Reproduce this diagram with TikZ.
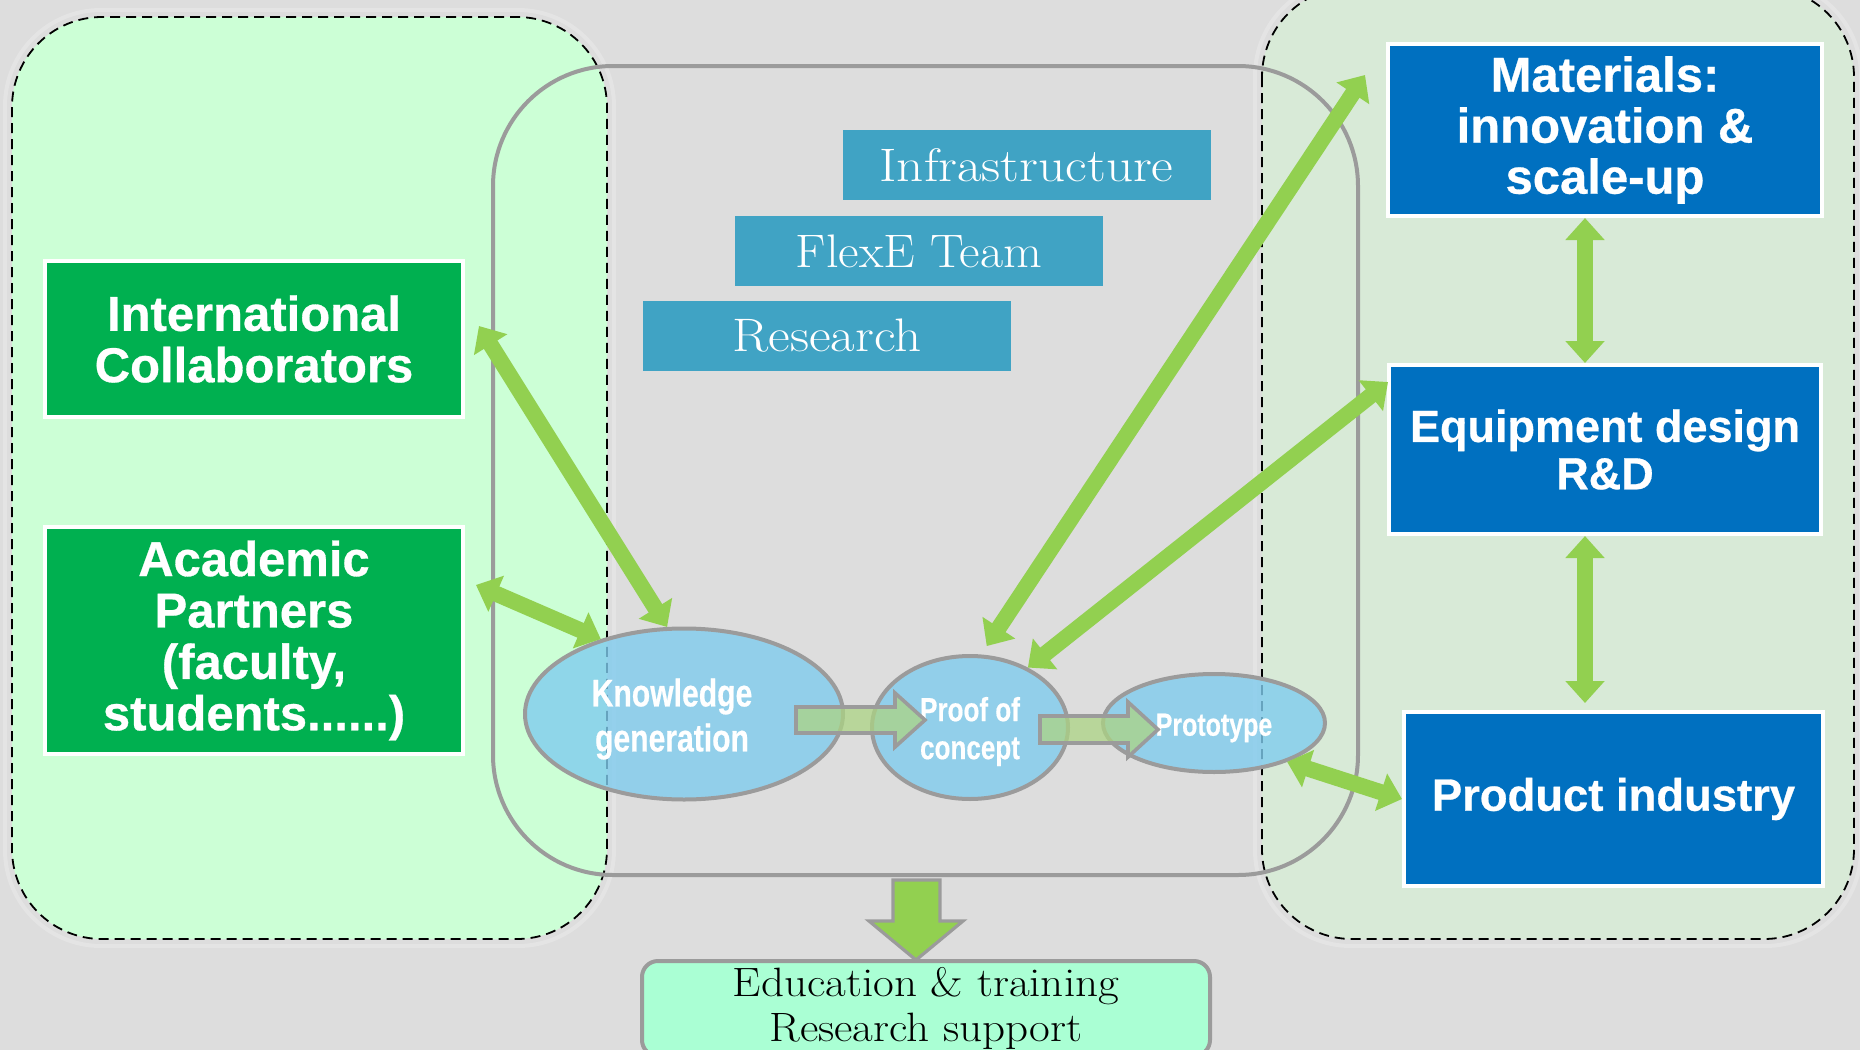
\documentclass[tikz,border=0pt]{standalone}
\usepackage{fontspec}
\usepackage{graphicx}
\usetikzlibrary{shapes.geometric,arrows.meta,calc}
\newfontfamily\sansf[FakeBold=0.6]{Liberation Sans}
\newfontfamily\narrowf[FakeStretch=0.78,FakeBold=0.5]{Liberation Sans}
\newcommand\widen[2]{\scalebox{#1}[1]{#2}}
\definecolor{bgc}{RGB}{221,221,221}
\definecolor{leftfill}{RGB}{204,255,214}
\definecolor{rightfill}{RGB}{216,234,215}
\definecolor{cgray}{RGB}{155,155,155}
\definecolor{tealc}{RGB}{64,163,196}
\definecolor{gboxc}{RGB}{0,176,80}
\definecolor{bboxc}{RGB}{0,112,192}
\definecolor{agreen}{RGB}{146,208,80}
\definecolor{ellblue}{RGB}{128,204,238}
\definecolor{edufill}{RGB}{170,255,212}
\definecolor{blockfill}{RGB}{172,212,132}
\begin{document}
\begin{tikzpicture}[x=0.5pt,y=-0.5pt,
  dashbox/.style={draw=black, line width=0.9pt, dash pattern=on 5pt off 3pt, rounded corners=45pt},
  halo/.style={draw=white, line width=2pt, opacity=0.22, rounded corners=48pt},
  tealbox/.style={fill=tealc, text=white, minimum width=184pt, minimum height=35pt, inner sep=0pt,
    font=\fontsize{23.5pt}{28pt}\selectfont},
  greenbox/.style={fill=gboxc, draw=white, line width=2pt, text=white, inner sep=0pt, align=center,
    font=\sansf\bfseries\fontsize{24.5pt}{25.7pt}\selectfont},
  bluebox/.style={fill=bboxc, draw=white, line width=2pt, text=white, inner sep=0pt, align=center},
  ell/.style={ellipse, draw=cgray, line width=2pt, fill=ellblue, fill opacity=0.8, inner sep=0pt},
  elltext/.style={text=white, inner sep=0pt, align=center},
  dbl/.style={draw=agreen, line width=8pt, {Triangle[length=11pt,width=19pt]}-{Triangle[length=11pt,width=19pt]}},
  blockarr/.style={fill=blockfill, fill opacity=0.75, draw=cgray, line width=1.8pt, line join=miter},
  downarr/.style={fill=agreen, draw=cgray, line width=1.6pt, line join=miter}
]
\useasboundingbox (0,0) rectangle (1860,1050);
\fill[bgc] (0,0) rectangle (1860,1050);
% group areas
\draw[halo] (5,10) rectangle (614,946);
\draw[halo] (1255,-20) rectangle (1861,946);
\filldraw[fill=leftfill, dashbox] (12,17) rectangle (607,939);
\filldraw[fill=rightfill, dashbox] (1262,-13) rectangle (1854,939);
\draw[cgray, line width=2pt, rounded corners=60pt] (493,66) rectangle (1358,875);
% teal boxes
\node[tealbox] (infra) at (1026.5,165) {\widen{1.13}{Infrastructure}};
\node[tealbox] (flexe) at (919,251) {\widen{1.07}{FlexE Team}};
\node[tealbox] (research) at (827,335.5) {\widen{1.13}{Research}};
% green boxes
\node[greenbox, minimum width=209pt, minimum height=78pt] (intl) at (254,339) {International\\Collaborators};
\node[greenbox, minimum width=209pt, minimum height=113.5pt] (acad) at (254,640.5) {Academic\\Partners\\(faculty,\\students......)};
% blue boxes
\node[bluebox, minimum width=217pt, minimum height=86pt, font=\sansf\bfseries\fontsize{24.5pt}{25.5pt}\selectfont] (mat) at (1605,130) {Materials:\\innovation \&\\scale-up};
\node[bluebox, minimum width=216pt, minimum height=84.5pt, font=\sansf\bfseries\fontsize{22.5pt}{23.7pt}\selectfont] (equip) at (1605,449.5) {Equipment design\\R\&D};
\node[bluebox, minimum width=209.5pt, minimum height=87pt, font=\sansf\bfseries\fontsize{22.7pt}{25pt}\selectfont] (prod) at (1613.5,799) {Product industry};
% ellipses
\node[ell, minimum width=159pt, minimum height=85.5pt] (know) at (684,714) {};
\node[ell, minimum width=98pt, minimum height=71.5pt] (proof) at (970,727.5) {};
\node[ell, minimum width=111pt, minimum height=49pt] (proto) at (1214,723) {};
\node[elltext, font=\narrowf\bfseries\fontsize{19.3pt}{22.5pt}\selectfont] (knowlbl) at (672,719) {Knowledge\\generation};
\node[elltext, font=\narrowf\bfseries\fontsize{16.7pt}{19pt}\selectfont] (prooflbl) at (970,731.5) {Proof of\\concept};
\node[elltext, font=\narrowf\bfseries\fontsize{16pt}{19pt}\selectfont] (protolbl) at (1214,728) {Prototype};
% block arrows between stages
\filldraw[blockarr] (796,707) -- (895,707) -- (895,693) -- (925,720) -- (895,747) -- (895,733) -- (796,733) -- cycle;
\filldraw[blockarr] (1040,716) -- (1128,716) -- (1128,702) -- (1158,729.5) -- (1128,757) -- (1128,743) -- (1040,743) -- cycle;
% education box and down arrow
\node[draw=cgray, line width=2pt, fill=edufill, rounded corners=8pt, minimum width=284pt, minimum height=47.5pt,
  inner sep=0pt, align=center, font=\fontsize{20.5pt}{22.5pt}\selectfont] (edu) at (926,1008.5) {\widen{1.1}{Education \& training}\\\widen{1.1}{Research support}};
\filldraw[downarr] (893,880) -- (940,880) -- (940,921) -- (963,921) -- (916,960) -- (869,921) -- (893,921) -- cycle;
% double arrows
\draw[dbl] ([shift={(7pt,6.5pt)}]intl.east) -- (know.101);
\draw[dbl] ([shift={(5.5pt,27.75pt)}]acad.east) -- (know.138);
\draw[dbl] ([shift={(-10.5pt,27.5pt)}]mat.west) -- ([yshift=4.5pt]proof.77);
\draw[dbl] ([shift={(0.5pt,33.75pt)}]equip.west) -- (proof.46);
\draw[dbl] (proto.-28) -- (prod.west);
\draw[dbl] ([xshift=-10pt]mat.south) -- ([xshift=-10pt]equip.north);
\draw[dbl] ([xshift=-10pt]equip.south) -- ([shift={(-14.25pt,3.5pt)}]prod.north);
\end{tikzpicture}
\end{document}
